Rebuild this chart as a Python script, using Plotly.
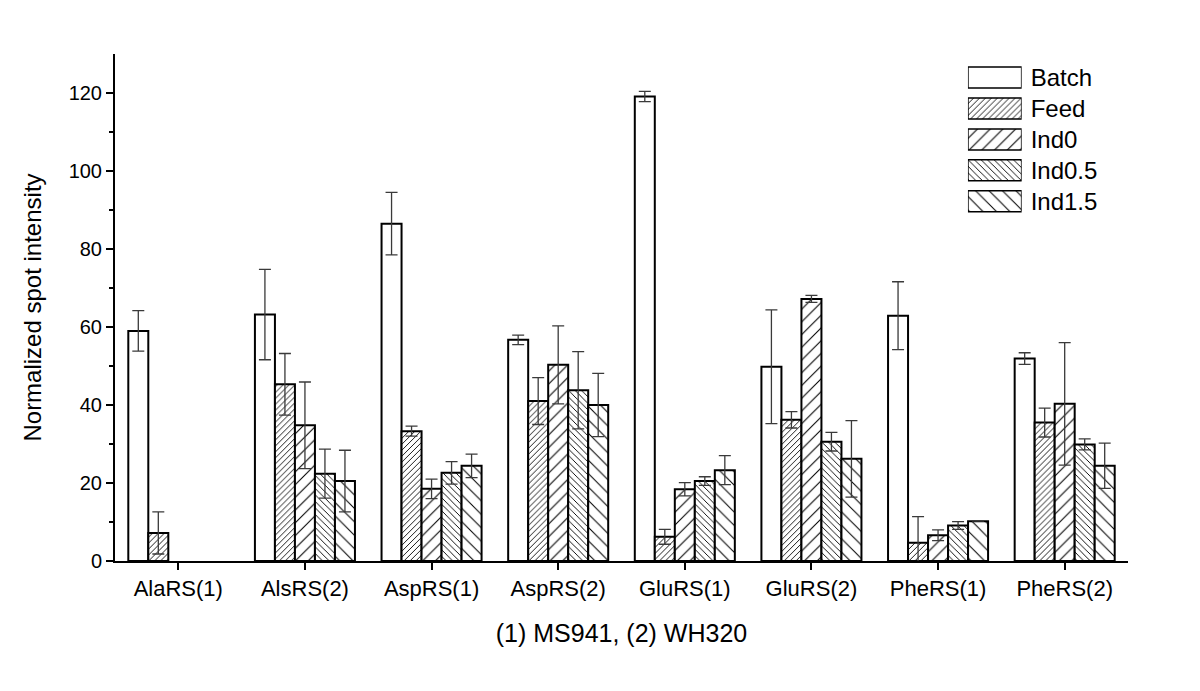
import plotly.graph_objects as go

categories = ["AlaRS(1)", "AlsRS(2)", "AspRS(1)", "AspRS(2)", "GluRS(1)", "GluRS(2)", "PheRS(1)", "PheRS(2)"]
series_names = ["Batch", "Feed", "Ind0", "Ind0.5", "Ind1.5"]

batch = [59.0, 63.2, 86.5, 56.7, 119.1, 49.8, 62.9, 51.9]
batch_err = [5.2, 11.6, 8.0, 1.2, 1.3, 14.6, 8.7, 1.5]
feed = [7.2, 45.3, 33.3, 41.0, 6.2, 36.2, 4.7, 35.5]
feed_err = [5.4, 7.9, 1.3, 6.0, 1.9, 2.1, 6.7, 3.7]
ind0 = [None, 34.8, 18.5, 50.3, 18.4, 67.2, 6.6, 40.3]
ind0_err = [0, 11.1, 2.5, 10.0, 1.7, 0.9, 1.4, 15.7]
ind05 = [None, 22.4, 22.6, 43.8, 20.5, 30.6, 9.1, 29.9]
ind05_err = [0, 6.3, 2.9, 9.9, 1.1, 2.4, 1.0, 1.4]
ind15 = [None, 20.5, 24.4, 40.0, 23.3, 26.2, 10.2, 24.4]
ind15_err = [0, 7.9, 3.0, 8.1, 3.7, 9.8, 0, 5.8]

values = [batch, feed, ind0, ind05, ind15]
errors = [batch_err, feed_err, ind0_err, ind05_err, ind15_err]
# (shape, tile size, solidity)
patterns = [("", 8, 0.2), ("/", 4.2, 0.21), ("/", 9, 0.12), ("\\", 4.6, 0.2), ("\\", 9.5, 0.11)]


def pat(p):
    shape, size, sol = p
    return dict(shape=shape, size=size, solidity=sol, fgcolor="black", bgcolor="white", fillmode="replace")


fig = go.Figure()
for name, v, e, p in zip(series_names, values, errors, patterns):
    fig.add_trace(go.Bar(
        name=name, x=categories, y=v, showlegend=False,
        error_y=dict(type="data", array=e, visible=True, color="#3a3a3a", thickness=1.3, width=6),
        marker=dict(color="white", line=dict(color="black", width=2), pattern=pat(p)),
    ))

# legend key: one box per series on a small auxiliary axis pair
for name, p in zip(series_names, patterns):
    fig.add_trace(go.Bar(
        name=name, y=[name], x=[1], orientation="h", xaxis="x2", yaxis="y2",
        showlegend=False, hoverinfo="skip", width=0.68,
        marker=dict(color="white", line=dict(color="black", width=1.5), pattern=pat(p)),
    ))

font_family = "Liberation Sans, Arial, sans-serif"
fig.update_layout(
    width=1192, height=683,
    barmode="group", bargap=0.21, bargroupgap=0,
    plot_bgcolor="rgba(0,0,0,0)", paper_bgcolor="white",
    margin=dict(l=107, r=72, t=46, b=130),
    font=dict(family=font_family, size=20, color="black"),
    showlegend=False,
    xaxis=dict(
        domain=[0, 1],
        showline=True, linecolor="black", linewidth=2, ticks="outside", ticklen=7, tickwidth=2,
        tickcolor="black", showgrid=False, zeroline=False,
        title=dict(text="(1) MS941, (2) WH320", font=dict(size=25), standoff=24),
        tickfont=dict(size=22),
    ),
    yaxis=dict(
        domain=[0, 1],
        range=[0, 130], showline=True, linecolor="black", linewidth=2, ticks="outside",
        ticklen=7, tickwidth=2, tickcolor="black", showgrid=False, zeroline=False,
        tickvals=[0, 20, 40, 60, 80, 100, 120], tickfont=dict(size=20),
        minor=dict(tickvals=[10, 30, 50, 70, 90, 110], ticks="outside", ticklen=4, tickwidth=2, tickcolor="black"),
        title=dict(text="Normalized spot intensity", font=dict(size=24), standoff=20),
    ),
    xaxis2=dict(
        domain=[0.842, 0.895], anchor="y2", range=[0, 1], visible=False, fixedrange=True,
    ),
    yaxis2=dict(
        domain=[0.679, 0.984], anchor="x2", side="right", type="category",
        autorange="reversed", showline=False, showgrid=False, zeroline=False, ticks="",
        tickfont=dict(size=24), ticklabelstandoff=8, fixedrange=True,
    ),
)

fig.write_html("out.html")
